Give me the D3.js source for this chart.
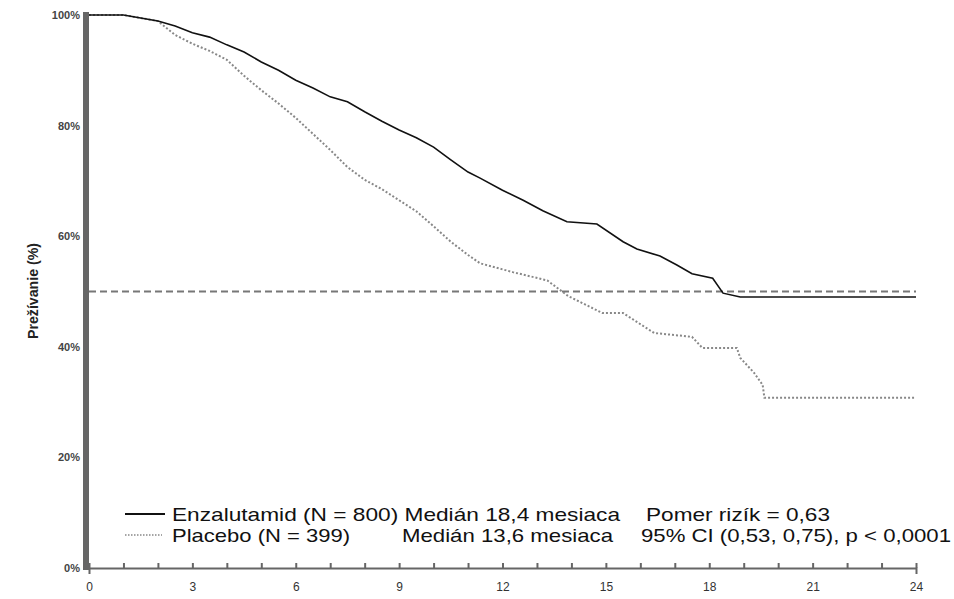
<!DOCTYPE html><html><head><meta charset="utf-8"><script src="https://cdn.jsdelivr.net/npm/d3@7"></script>
<style>body{margin:0;background:#fff}</style></head><body><svg id="c" width="954" height="599"></svg>
<script>
const xTicks=[0,3,6,9,12,15,18,21,24];
const yTicks=[0,20,40,60,80,100];
const enzT=[0,1,2,2.5,3,3.5,4,4.5,5,5.5,6,6.5,7,7.5,8,8.5,9,9.5,10,10.5,11,11.35,12,12.6,13.17,13.87,14.74,15.5,15.9,16.57,17.06,17.5,18.1,18.4,18.9,24];
const enzS=[100,100,98.9,98,96.8,96,94.6,93.3,91.5,90,88.2,86.8,85.2,84.3,82.5,80.8,79.2,77.8,76.1,73.8,71.6,70.5,68.3,66.5,64.6,62.6,62.2,59,57.7,56.4,54.8,53.2,52.4,49.7,49,49];
const plaT=[0,1,2,2.5,3,3.5,4,4.5,5,5.5,6,6.5,7,7.5,8,8.5,9,9.5,10,10.5,11,11.35,12.3,13.3,13.9,14.9,15.5,16.4,17.5,17.8,18.8,18.9,19.3,19.55,19.6,24];
const plaS=[100,100,98.9,96.4,94.8,93.5,91.9,89,86.4,84,81.4,78.5,75.6,72.5,70.2,68.5,66.5,64.5,61.8,59,56.6,55.1,53.5,52,49.2,46.1,46.1,42.5,41.8,39.8,39.8,38,35.3,33.1,30.8,30.8];
const svg=d3.select("#c");
const x=d3.scaleLinear().domain([0,24]).range([89,916]);
const y=d3.scaleLinear().domain([0,100]).range([568,15]);
const xa=svg.append("g").attr("transform","translate(0,568)").call(d3.axisBottom(x).tickValues(d3.range(0,25)).tickSize(6).tickFormat(d=>xTicks.includes(d)?d:""));
xa.select(".domain").attr("stroke","#666").attr("stroke-width",2);
xa.selectAll(".tick line").attr("stroke","#666").attr("stroke-width",2).attr("y1",-5).attr("y2",0);
xa.selectAll("text").attr("font-family","Liberation Sans, Arial").attr("font-size",12).attr("fill","#333").attr("dy","1.2em");
svg.append("line").attr("x1",86).attr("x2",86).attr("y1",12).attr("y2",570).attr("stroke","#666").attr("stroke-width",6);
svg.selectAll(".yl").data(yTicks).join("text").attr("x",80).attr("y",d=>y(d)+4).attr("text-anchor","end")
 .attr("font-family","Liberation Sans, Arial").attr("font-weight","bold").attr("font-size",11).attr("fill","#444").text(d=>d+"%");
svg.append("text").attr("transform","translate(38,291) rotate(-90)").attr("text-anchor","middle")
 .attr("font-family","Liberation Sans, Arial").attr("font-weight","bold").attr("font-size",14).attr("fill","#222")
 .attr("textLength",96).attr("lengthAdjust","spacingAndGlyphs").text("Prežívanie (%)");
svg.append("line").attr("x1",x(0)).attr("x2",x(24)).attr("y1",y(50)).attr("y2",y(50)).attr("stroke","#777").attr("stroke-width",2).attr("stroke-dasharray","7,4");
const line=d3.line().x(d=>x(d[0])).y(d=>y(d[1])).curve(d3.curveLinear);
svg.append("path").attr("d",line(plaT.map((t,i)=>[t,plaS[i]]))).attr("fill","none").attr("stroke","#888").attr("stroke-width",2).attr("stroke-dasharray","2,2");
svg.append("path").attr("d",line(enzT.map((t,i)=>[t,enzS[i]]))).attr("fill","none").attr("stroke","#111").attr("stroke-width",1.6);
const lg=svg.append("g").attr("font-family","Liberation Sans, Arial").attr("font-size",19).attr("fill","#111");
lg.append("line").attr("x1",125).attr("x2",165).attr("y1",514).attr("y2",514).attr("stroke","#111").attr("stroke-width",2);
lg.append("line").attr("x1",125).attr("x2",162).attr("y1",535).attr("y2",535).attr("stroke","#888").attr("stroke-width",1.5).attr("stroke-dasharray","1.5,1.5");
const items=[[172,521,448,"Enzalutamid (N = 800) Medián 18,4 mesiaca"],[646,521,184,"Pomer rizík = 0,63"],
 [172,542,178,"Placebo (N = 399)"],[402,542,211,"Medián 13,6 mesiaca"],[641,542,310,"95% CI (0,53, 0,75), p < 0,0001"]];
items.forEach(d=>lg.append("text").attr("x",d[0]).attr("y",d[1]).attr("textLength",d[2]).attr("lengthAdjust","spacingAndGlyphs").text(d[3]));
</script></body></html>
